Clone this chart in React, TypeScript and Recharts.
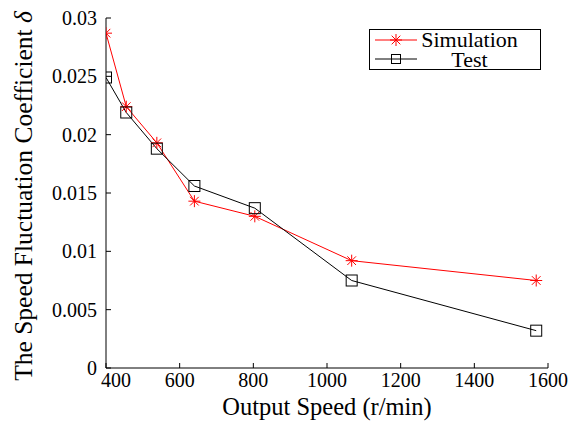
import React from 'react'
import { LineChart, Line, XAxis, YAxis, Legend } from 'recharts'

const speeds = [400, 455, 538, 640, 804, 1067, 1568]
const simulation = [0.0287, 0.0224, 0.0193, 0.0143, 0.013, 0.0092, 0.0075]
const test = [0.0249, 0.0219, 0.0188, 0.0156, 0.0137, 0.0075, 0.0032]
const xTicks = [400, 600, 800, 1000, 1200, 1400, 1600]
const yTicks = [0, 0.005, 0.01, 0.015, 0.02, 0.025, 0.03]

const data = speeds.map((speed, i) => ({ speed, simulation: simulation[i], test: test[i] }))

const FONT = "'Liberation Serif', 'Times New Roman', serif"

function StarMark({ cx, cy, color = '#ff0000', r = 6 }: { cx: number; cy: number; color?: string; r?: number }) {
  const d = r * 0.72
  return (
    <g stroke={color} strokeWidth={1} fill="none">
      <line x1={cx - r} y1={cy} x2={cx + r} y2={cy} />
      <line x1={cx} y1={cy - r} x2={cx} y2={cy + r} />
      <line x1={cx - d} y1={cy - d} x2={cx + d} y2={cy + d} />
      <line x1={cx - d} y1={cy + d} x2={cx + d} y2={cy - d} />
    </g>
  )
}

function SquareMark({ cx, cy, color = '#000', r = 5.5 }: { cx: number; cy: number; color?: string; r?: number }) {
  return <rect x={cx - r} y={cy - r} width={r * 2} height={r * 2} stroke={color} strokeWidth={1} fill="none" />
}

function XTick(props: any) {
  const { x, y, payload, index } = props
  // the first label sits a little right of the corner, as in the source figure
  return (
    <text x={x + (index === 0 ? 10 : 0)} y={y} dy="0.71em" textAnchor="middle" fontSize={20} style={{ fontFamily: FONT }} fill="#000">
      {payload.value}
    </text>
  )
}

function YTick(props: any) {
  const { x, y, payload } = props
  return (
    <text x={x} y={y} dy="0.35em" textAnchor="end" fontSize={20} style={{ fontFamily: FONT }} fill="#000">
      {payload.value}
    </text>
  )
}

function YLabel(props: any) {
  const vb = props.viewBox || { x: 0, y: 18, height: 350 }
  const cx = 23
  const cy = vb.y + vb.height / 2 + 3
  return (
    <text
      x={cx}
      y={cy}
      transform={`rotate(-90 ${cx} ${cy})`}
      textAnchor="middle"
      dy="0.35em"
      fontSize={25.5}
      style={{ fontFamily: FONT }}
      fill="#000"
    >
      The Speed Fluctuation Coefficient <tspan fontStyle="italic">δ</tspan>
    </text>
  )
}

function LegendBox(props: any) {
  const items = props.payload || []
  return (
    <div style={{ border: '1px solid #000', background: '#fff', fontFamily: FONT, fontSize: 22, height: 39, boxSizing: 'content-box' }}>
      {items.map((entry: any) => (
        <div key={entry.value} style={{ display: 'flex', alignItems: 'center', height: 19.5, paddingLeft: 5 }}>
          <svg width={42} height={20} style={{ display: 'block', flex: 'none' }}>
            <line x1={0} y1={10} x2={42} y2={10} stroke={entry.color} strokeWidth={1} />
            {entry.dataKey === 'simulation' ? (
              <StarMark cx={21} cy={10} color={entry.color} />
            ) : (
              <SquareMark cx={21} cy={10} color={entry.color} r={4.5} />
            )}
          </svg>
          <span style={{ width: 97, marginLeft: 4, textAlign: 'center', lineHeight: '19px' }}>{entry.value}</span>
        </div>
      ))}
    </div>
  )
}

export default function App() {
  return (
    <div style={{ position: 'absolute', left: 0, top: 0, width: 583, height: 428, background: '#fff', fontFamily: FONT }}>
      <LineChart width={583} height={428} data={data} margin={{ top: 18, right: 35, bottom: 30, left: 0 }}>
        <XAxis
          dataKey="speed"
          type="number"
          domain={[400, 1600]}
          ticks={xTicks}
          interval={0}
          allowDataOverflow
          height={30}
          stroke="#000"
          tickSize={-5}
          tickMargin={10}
          tick={<XTick />}
          label={{ value: 'Output Speed (r/min)', position: 'bottom', offset: 0, fontSize: 24.5, fill: '#000', style: { fontFamily: FONT } }}
        />
        <XAxis
          xAxisId="top"
          orientation="top"
          type="number"
          domain={[400, 1600]}
          ticks={xTicks}
          interval={0}
          allowDataOverflow
          height={0}
          stroke="#000"
          tickSize={-5}
          tick={false}
        />
        <YAxis
          type="number"
          domain={[0, 0.03]}
          ticks={yTicks}
          interval={0}
          allowDataOverflow
          width={106}
          stroke="#000"
          tickSize={-5}
          tickMargin={14}
          tick={<YTick />}
          label={{ content: (p: any) => <YLabel {...p} /> }}
        />
        <YAxis
          yAxisId="right"
          orientation="right"
          type="number"
          domain={[0, 0.03]}
          ticks={yTicks}
          interval={0}
          allowDataOverflow
          width={0}
          stroke="#000"
          tickSize={-5}
          tick={false}
        />
        <Legend
          layout="vertical"
          align="center"
          verticalAlign="middle"
          content={<LegendBox />}
          wrapperStyle={{ position: 'absolute', left: 369, top: 29, width: 172, height: 41 }}
        />
        <Line
          name="Simulation"
          dataKey="simulation"
          stroke="#ff0000"
          strokeWidth={1}
          isAnimationActive={false}
          dot={(p: any) => <StarMark key={`s${p.index}`} cx={p.cx} cy={p.cy} />}
        />
        <Line
          name="Test"
          dataKey="test"
          stroke="#000"
          strokeWidth={1}
          isAnimationActive={false}
          dot={(p: any) => <SquareMark key={`t${p.index}`} cx={p.cx} cy={p.cy} />}
        />
      </LineChart>
    </div>
  )
}
